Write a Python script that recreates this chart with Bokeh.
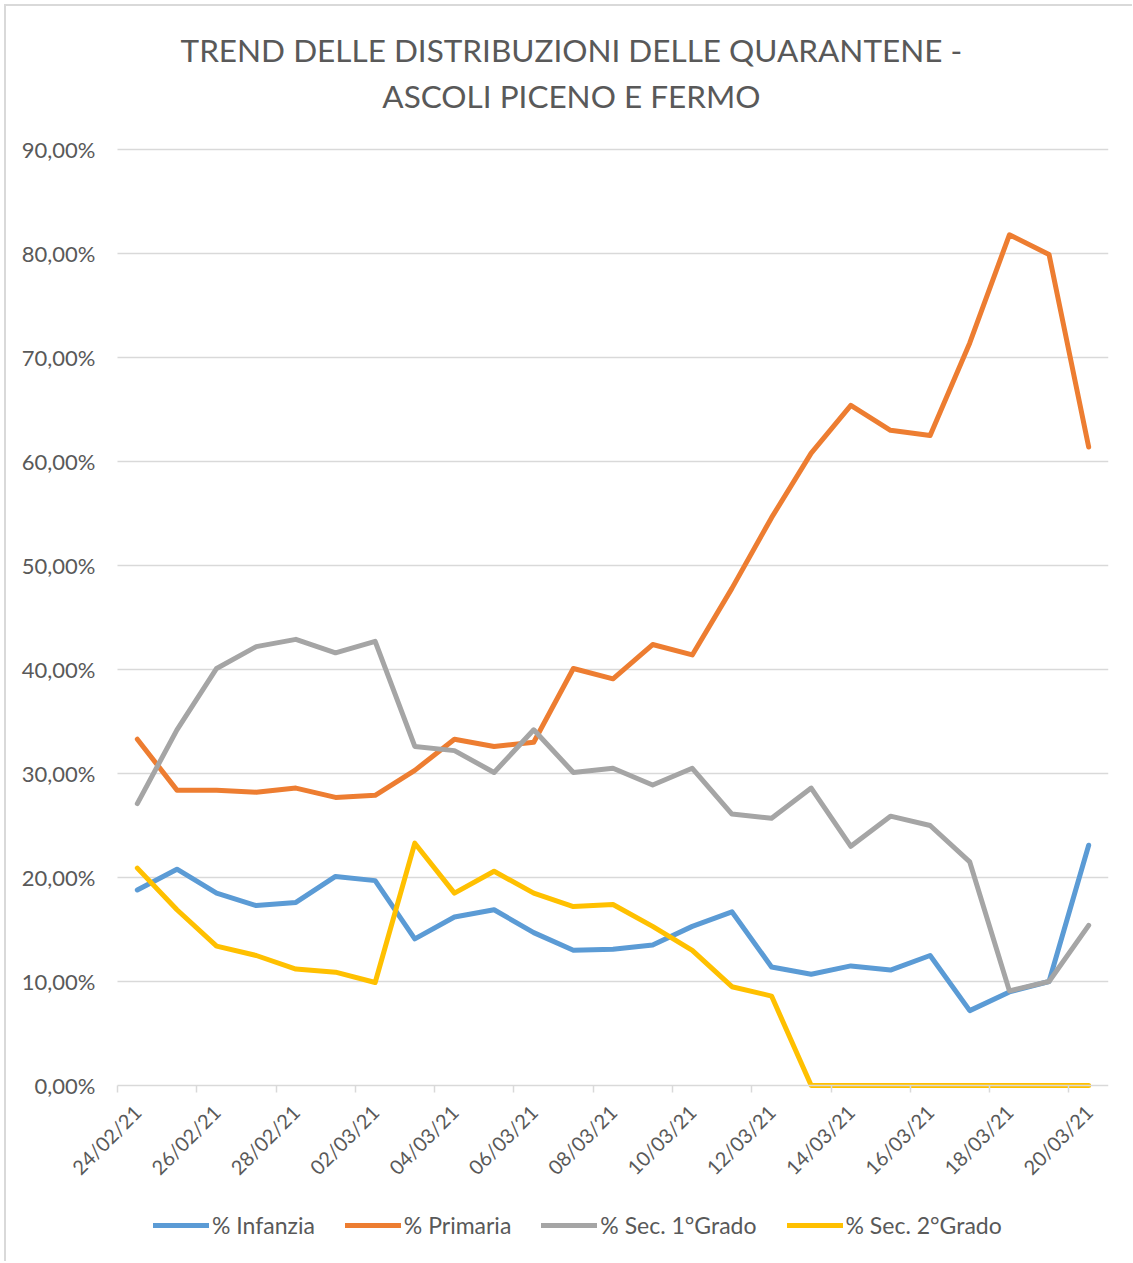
import math
from bokeh.plotting import figure
from bokeh.models import FixedTicker, Legend, LegendItem, Range1d, ColumnDataSource, Label
from bokeh.embed import file_html
from bokeh.resources import INLINE

dates = ["24/02/21", "25/02/21", "26/02/21", "27/02/21", "28/02/21",
         "01/03/21", "02/03/21", "03/03/21", "04/03/21", "05/03/21",
         "06/03/21", "07/03/21", "08/03/21", "09/03/21", "10/03/21",
         "11/03/21", "12/03/21", "13/03/21", "14/03/21", "15/03/21",
         "16/03/21", "17/03/21", "18/03/21", "19/03/21", "20/03/21"]

infanzia = [18.8, 20.8, 18.5, 17.3, 17.6, 20.1, 19.7, 14.1, 16.2, 16.9, 14.7, 13.0, 13.1,
            13.5, 15.3, 16.7, 11.4, 10.7, 11.5, 11.1, 12.5, 7.2, 9.0, 10.0, 23.1]
primaria = [33.3, 28.4, 28.4, 28.2, 28.6, 27.7, 27.9, 30.3, 33.3, 32.6, 33.0, 40.1, 39.1,
            42.4, 41.4, 47.8, 54.6, 60.8, 65.4, 63.0, 62.5, 71.4, 81.8, 79.9, 61.4]
sec1 = [27.1, 34.2, 40.1, 42.2, 42.9, 41.6, 42.7, 32.6, 32.2, 30.1, 34.2, 30.1, 30.5,
        28.9, 30.5, 26.1, 25.7, 28.6, 23.0, 25.9, 25.0, 21.5, 9.1, 10.0, 15.4]
sec2 = [20.9, 16.9, 13.4, 12.5, 11.2, 10.9, 9.9, 23.3, 18.5, 20.6, 18.5, 17.2, 17.4,
        15.3, 13.0, 9.5, 8.6, 0.0, 0.0, 0.0, 0.0, 0.0, 0.0, 0.0, 0.0]

series_names = ["% Infanzia", "% Primaria", "% Sec. 1°Grado", "% Sec. 2°Grado"]
series_colors = ["#5B9BD5", "#ED7D31", "#A5A5A5", "#FFC000"]
y_ticks = [0, 10, 20, 30, 40, 50, 60, 70, 80, 90]
y_tick_labels = ["0,00%", "10,00%", "20,00%", "30,00%", "40,00%", "50,00%",
                 "60,00%", "70,00%", "80,00%", "90,00%"]
title_lines = ["TREND DELLE DISTRIBUZIONI DELLE QUARANTENE -", "ASCOLI PICENO E FERMO"]

FONT = "Lato"
TXT = "#595959"
GRID = "#D9D9D9"

n = len(dates)
xs = list(range(n))
X_LO, X_HI = -0.5, n - 0.5

# Layout (page pixels): the frame spans the whole chart box so that the title,
# the axis labels and the legend (all annotations) fit inside it.
OFFSET = 6            # margin + border of the figure element
FRAME_LEFT = 12
PLOT_LEFT = 117
PLOT_RIGHT = 1108
FRAME_TOP = 20
FRAME_BOTTOM = 1261
ZERO_PX = 1085
LEGEND_BOTTOM = 1239
PX_PER_UNIT = 10.4
PX_PER_CAT = (PLOT_RIGHT - PLOT_LEFT) / n
FRAME_H = FRAME_BOTTOM - FRAME_TOP
FRAME_W = PLOT_RIGHT - FRAME_LEFT
Y_MAX = (ZERO_PX - FRAME_TOP) / PX_PER_UNIT
Y_MIN = Y_MAX - FRAME_H / PX_PER_UNIT
X_START = X_LO - (PLOT_LEFT - FRAME_LEFT) / PX_PER_CAT

p = figure(frame_width=FRAME_W, frame_height=FRAME_H,
           min_border_left=FRAME_LEFT - OFFSET, min_border_right=24,
           min_border_top=FRAME_TOP - OFFSET, min_border_bottom=0,
           x_range=Range1d(X_START, X_HI), y_range=Range1d(Y_MIN, Y_MAX),
           output_backend="svg", toolbar_location=None, tools="")
p.styles = {"margin-left": "4px", "margin-top": "4px",
            "border-left": "2px solid #D9D9D9", "border-top": "2px solid #D9D9D9"}
p.outline_line_color = None
p.background_fill_color = "white"
p.border_fill_color = "white"

# grid (only inside the plot area)
p.xgrid.grid_line_color = None
p.ygrid.ticker = FixedTicker(ticks=y_ticks[1:])
p.ygrid.cross_bounds = (X_LO, X_HI)
p.ygrid.grid_line_color = GRID
p.ygrid.grid_line_width = 1.5

# y axis, drawn at the left edge of the plot area
p.yaxis.ticker = FixedTicker(ticks=y_ticks)
p.yaxis.fixed_location = X_LO
p.yaxis.major_label_overrides = {t: l for t, l in zip(y_ticks, y_tick_labels)}
p.yaxis.axis_line_color = None
p.yaxis.major_tick_line_color = None
p.yaxis.minor_tick_line_color = None
p.yaxis.major_tick_out = 0
p.yaxis.major_label_standoff = 22
p.yaxis.major_label_text_font = FONT
p.yaxis.major_label_text_font_size = "22px"
p.yaxis.major_label_text_color = TXT

# x axis, drawn at 0 %
label_idx = list(range(0, n, 2))
p.xaxis.ticker = FixedTicker(ticks=label_idx, minor_ticks=[i - 0.5 for i in range(0, n, 2)])
p.xaxis.fixed_location = 0
p.xaxis.bounds = (X_LO, X_HI)
p.xaxis.major_label_overrides = {i: dates[i] for i in label_idx}
p.xaxis.major_label_orientation = math.pi / 4
p.xaxis.axis_line_color = GRID
p.xaxis.axis_line_width = 1.5
p.xaxis.major_tick_line_color = None
p.xaxis.major_tick_out = 0
p.xaxis.minor_tick_line_color = GRID
p.xaxis.minor_tick_line_width = 1.5
p.xaxis.minor_tick_in = 0
p.xaxis.minor_tick_out = 7
p.xaxis.major_label_standoff = 16
p.xaxis.major_label_text_font = FONT
p.xaxis.major_label_text_font_size = "20px"
p.xaxis.major_label_text_color = TXT

items = []
for name, vals, col in zip(series_names, [infanzia, primaria, sec1, sec2], series_colors):
    src = ColumnDataSource(dict(x=xs, y=vals))
    r = p.line("x", "y", source=src, line_color=col, line_width=5,
               line_cap="round", line_join="round")
    items.append(LegendItem(label=name, renderers=[r]))

legend = Legend(items=items, orientation="horizontal",
                location=(PLOT_LEFT - FRAME_LEFT + 36, FRAME_BOTTOM - LEGEND_BOTTOM),
                label_text_font=FONT, label_text_font_size="23px", label_text_color=TXT,
                glyph_width=56, glyph_height=24, label_standoff=3, spacing=30,
                border_line_color=None, background_fill_alpha=0, padding=4, margin=0)
p.add_layout(legend, "center")

# title, centred on the whole chart (not on the plot area)
title_y = [99.6, 95.1]
for t, ty in zip(title_lines, title_y):
    p.add_layout(Label(x=10.95, y=ty, text=t, text_align="center", text_baseline="middle",
                       text_font=FONT, text_font_size="31.5px", text_color=TXT))

open("out.html", "w").write(file_html(p, INLINE))
